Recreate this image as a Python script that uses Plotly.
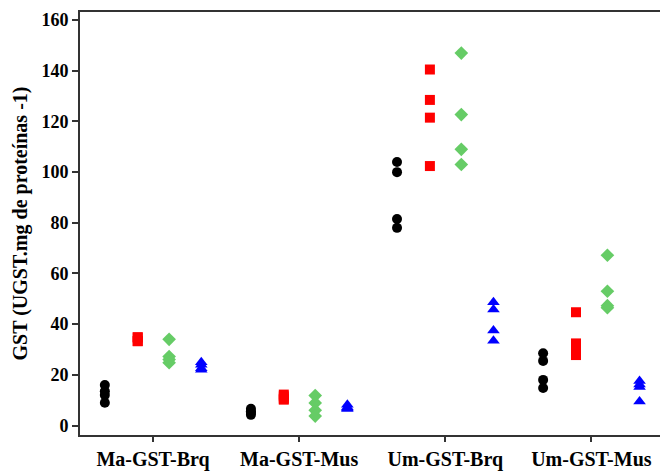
import plotly.graph_objects as go

categories = ["Ma-GST-Brq", "Ma-GST-Mus", "Um-GST-Brq", "Um-GST-Mus"]

# values per series, one list per category
black_vals = [[16.0, 13.5, 12.0, 9.0],
              [6.6, 5.6, 5.0, 4.2],
              [104.0, 100.0, 81.5, 78.0],
              [28.5, 25.5, 18.0, 14.8]]
red_vals = [[33.3, 33.3, 34.8, 34.8],
            [12.2, 11.5, 10.6, 10.2],
            [140.5, 128.5, 121.5, 102.4],
            [44.7, 32.4, 30.2, 27.8]]
green_vals = [[34.0, 27.2, 26.0, 24.8],
              [11.8, 8.9, 6.0, 3.7],
              [147.0, 122.7, 109.0, 103.0],
              [67.2, 53.0, 47.3, 46.5]]
blue_vals = [[25.0, 24.0, 22.6, 22.0],
             [8.2, 7.2, 6.8, 6.5],
             [48.6, 45.8, 37.5, 33.4],
             [17.6, 16.2, 15.2, 9.5]]

series = [
    ("black", black_vals, -0.33, "circle", 10, "#000000"),
    ("red", red_vals, -0.105, "square", 10, "#ff0000"),
    ("green", green_vals, 0.11, "diamond", 10.5, "#66cc66"),
    ("blue", blue_vals, 0.33, "triangle-up", 11, "#0000ff"),
]

fig = go.Figure()
for name, vals, off, sym, size, col in series:
    xs, ys = [], []
    for i, group in enumerate(vals):
        for v in group:
            xs.append(i + off)
            ys.append(v)
    fig.add_trace(go.Scatter(
        x=xs, y=ys, mode="markers", name=name,
        marker=dict(symbol=sym, size=size, color=col, line=dict(width=0)),
        showlegend=False,
    ))

font_family = "Liberation Serif, Times New Roman, serif"

fig.update_layout(
    width=660, height=476,
    margin=dict(l=80, r=0, t=12, b=41),
    paper_bgcolor="white", plot_bgcolor="white",
    font=dict(family=font_family, color="#000000"),
)
fig.update_xaxes(
    range=[-0.5, 3.47],
    tickmode="array", tickvals=list(range(len(categories))), ticktext=categories,
    tickfont=dict(size=20, family=font_family, color="#000000", weight="bold"),
    showgrid=False, zeroline=False,
    showline=True, linecolor="#333333", linewidth=2, mirror=True,
    ticks="outside", ticklen=5, tickwidth=1.5, tickcolor="#333333",
)
fig.update_yaxes(
    range=[-3.75, 163.2],
    tickmode="array", tickvals=[0, 20, 40, 60, 80, 100, 120, 140, 160],
    tickfont=dict(size=18, family=font_family, color="#000000", weight="bold"),
    showgrid=False, zeroline=False,
    showline=True, linecolor="#333333", linewidth=2, mirror=False,
    ticks="outside", ticklen=6, tickwidth=1.5, tickcolor="#333333",
    title=dict(text="GST (UGST.mg de proteínas -1)", standoff=8,
               font=dict(size=20, family=font_family, color="#000000", weight="bold")),
)

fig.write_html("out.html")
